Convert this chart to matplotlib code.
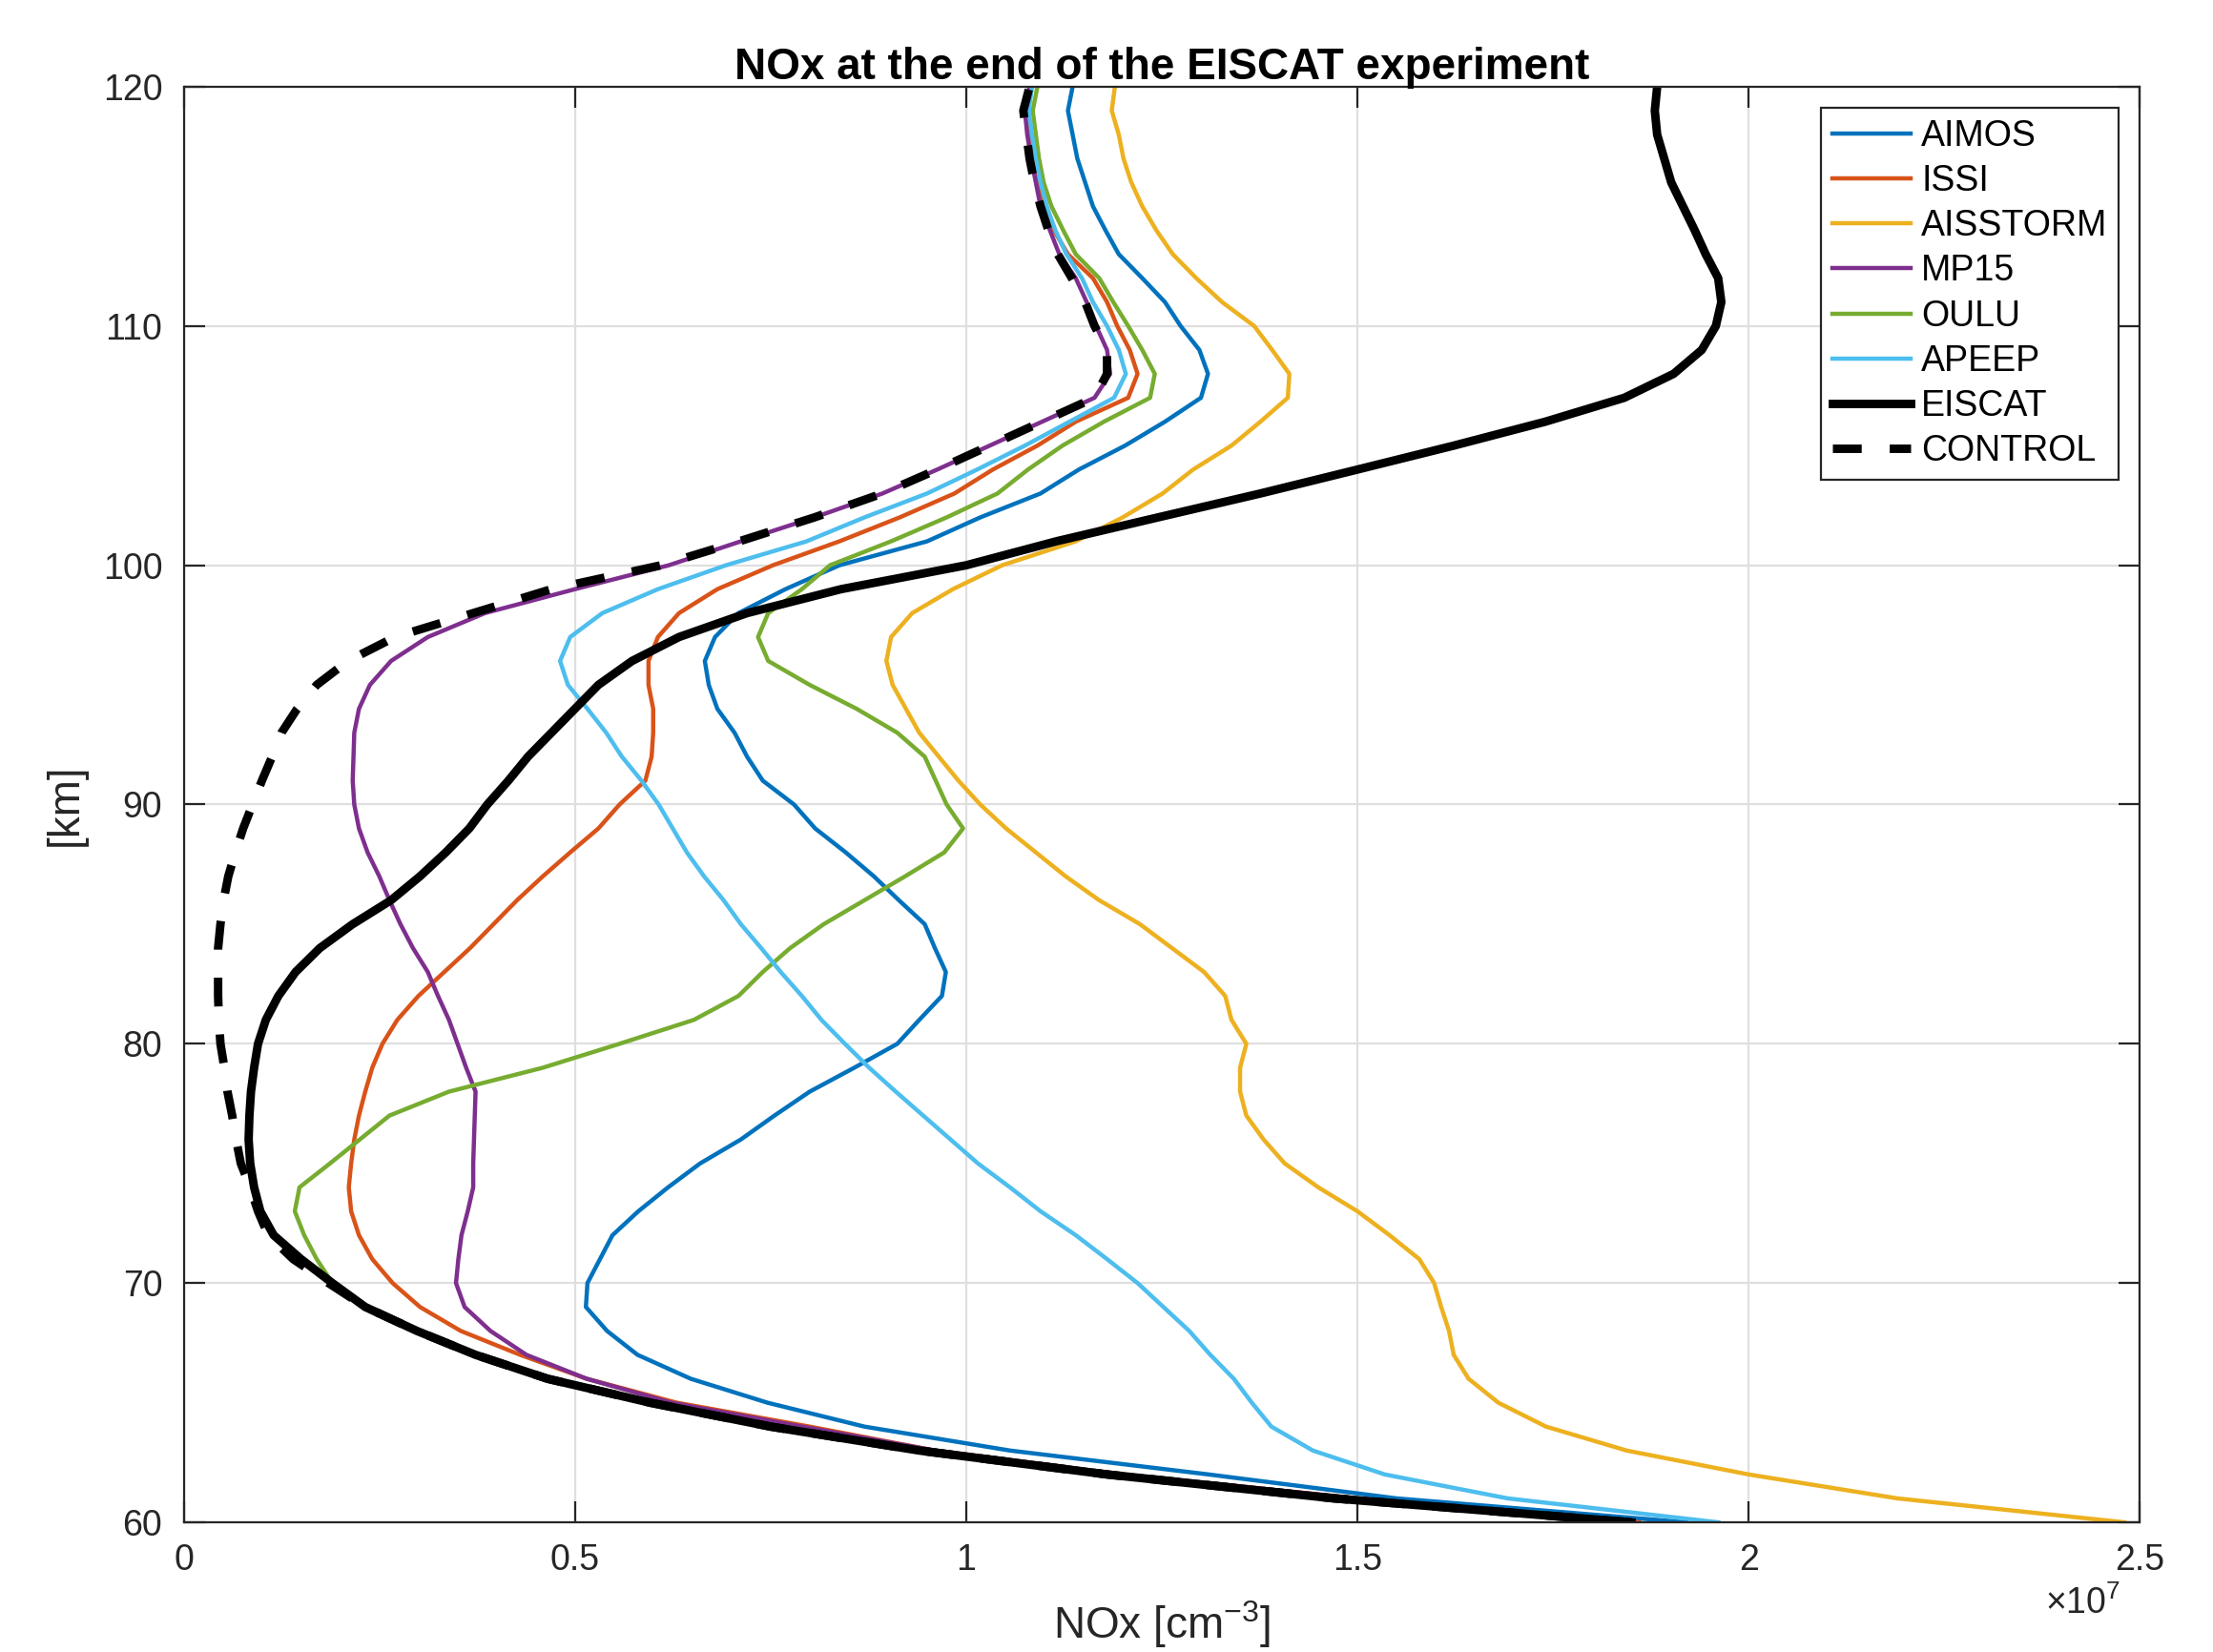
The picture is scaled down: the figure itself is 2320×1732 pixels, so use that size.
import matplotlib
matplotlib.use('Agg')
import matplotlib.pyplot as plt
from matplotlib.ticker import ScalarFormatter
import numpy as np

plt.rcParams['font.family'] = ['Liberation Sans', 'DejaVu Sans']
plt.rcParams['mathtext.fontset'] = 'custom'
plt.rcParams['mathtext.rm'] = 'Liberation Sans'
plt.rcParams['mathtext.it'] = 'Liberation Sans:italic'
plt.rcParams['mathtext.bf'] = 'Liberation Sans:bold'

# altitude grid [km]
altitude = np.arange(60, 121)

# NOx profiles in units of 1e7 cm^-3, from 60 km up to 120 km
aimos = [1.92, 1.55, 1.31, 1.056, 0.87, 0.746, 0.648, 0.58, 0.541, 0.514,
         0.516, 0.532, 0.548, 0.581, 0.619, 0.66, 0.712, 0.755, 0.80, 0.857,
         0.912, 0.94, 0.969, 0.974, 0.96, 0.947, 0.914, 0.882, 0.846, 0.807,
         0.78, 0.74, 0.72, 0.704, 0.682, 0.671, 0.666, 0.679, 0.709, 0.769,
         0.838, 0.95, 1.018, 1.095, 1.144, 1.203, 1.254, 1.3, 1.309, 1.298,
         1.274, 1.254, 1.225, 1.195, 1.178, 1.162, 1.152, 1.142, 1.136, 1.13,
         1.136]
issi = [1.86, 1.5, 1.2, 0.96, 0.80, 0.63, 0.515, 0.43, 0.354, 0.302,
        0.267, 0.241, 0.224, 0.214, 0.211, 0.214, 0.218, 0.224, 0.232, 0.241,
        0.254, 0.273, 0.3, 0.333, 0.366, 0.396, 0.426, 0.459, 0.494, 0.53,
        0.557, 0.59, 0.598, 0.6, 0.6, 0.594, 0.594, 0.606, 0.633, 0.682,
        0.753, 0.838, 0.915, 0.985, 1.034, 1.091, 1.14, 1.207, 1.219, 1.209,
        1.193, 1.18, 1.162, 1.13, 1.112, 1.1, 1.093, 1.086, 1.082, 1.078,
        1.084]
aisstorm = [2.48, 2.19, 2.0, 1.844, 1.741, 1.68, 1.642, 1.623, 1.617, 1.607,
            1.598, 1.579, 1.541, 1.5, 1.45, 1.407, 1.38, 1.358, 1.35, 1.35,
            1.358, 1.339, 1.331, 1.304, 1.263, 1.222, 1.17, 1.127, 1.089, 1.051,
            1.018, 0.99, 0.965, 0.94, 0.923, 0.906, 0.898, 0.904, 0.931, 0.983,
            1.046, 1.14, 1.2, 1.251, 1.29, 1.339, 1.376, 1.411, 1.413, 1.391,
            1.368, 1.327, 1.294, 1.264, 1.243, 1.225, 1.211, 1.201, 1.195, 1.186,
            1.19]
mp15 = [1.85, 1.5, 1.2, 0.96, 0.79, 0.623, 0.515, 0.438, 0.392, 0.359,
        0.348, 0.351, 0.355, 0.363, 0.37, 0.37, 0.371, 0.372, 0.373, 0.361,
        0.35, 0.339, 0.325, 0.312, 0.293, 0.277, 0.263, 0.25, 0.235, 0.224,
        0.218, 0.216, 0.217, 0.218, 0.224, 0.238, 0.265, 0.312, 0.385, 0.50,
        0.62, 0.712, 0.806, 0.893, 0.963, 1.03, 1.097, 1.164, 1.184, 1.18,
        1.166, 1.154, 1.14, 1.119, 1.107, 1.095, 1.089, 1.083, 1.078, 1.075,
        1.081]
oulu = [1.85, 1.47, 1.18, 0.94, 0.75, 0.596, 0.465, 0.373, 0.3, 0.236,
        0.19, 0.17, 0.154, 0.142, 0.148, 0.187, 0.225, 0.263, 0.339, 0.459,
        0.557, 0.652, 0.709, 0.74, 0.775, 0.818, 0.87, 0.922, 0.972, 0.996,
        0.975, 0.961, 0.947, 0.912, 0.86, 0.80, 0.747, 0.734, 0.747, 0.79,
        0.826, 0.904, 0.975, 1.04, 1.079, 1.123, 1.176, 1.235, 1.241, 1.225,
        1.207, 1.188, 1.17, 1.14, 1.124, 1.109, 1.099, 1.093, 1.089, 1.085,
        1.091]
apeep = [1.961, 1.692, 1.535, 1.443, 1.39, 1.365, 1.342, 1.312, 1.285, 1.252,
         1.219, 1.18, 1.14, 1.095, 1.056, 1.015, 0.98, 0.945, 0.91, 0.876,
         0.845, 0.815, 0.79, 0.763, 0.738, 0.712, 0.69, 0.665, 0.643, 0.625,
         0.607, 0.585, 0.56, 0.54, 0.516, 0.491, 0.481, 0.494, 0.535, 0.606,
         0.693, 0.796, 0.87, 0.95, 1.014, 1.075, 1.132, 1.189, 1.204, 1.195,
         1.18, 1.162, 1.148, 1.128, 1.114, 1.103, 1.095, 1.089, 1.084, 1.08,
         1.084]
eiscat = [1.85, 1.47, 1.18, 0.94, 0.75, 0.596, 0.465, 0.373, 0.298, 0.232,
          0.19, 0.15, 0.115, 0.098, 0.09, 0.085, 0.083, 0.084, 0.086, 0.09,
          0.095, 0.105, 0.121, 0.143, 0.174, 0.216, 0.265, 0.302, 0.335, 0.365,
          0.388, 0.415, 0.44, 0.47, 0.5, 0.53, 0.573, 0.633, 0.72, 0.84,
          1.0, 1.115, 1.245, 1.376, 1.50, 1.623, 1.74, 1.841, 1.904, 1.94,
          1.958, 1.965, 1.961, 1.945, 1.931, 1.916, 1.901, 1.892, 1.883, 1.880,
          1.883]
control = [1.85, 1.47, 1.18, 0.94, 0.75, 0.596, 0.465, 0.373, 0.298, 0.232,
           0.185, 0.14, 0.108, 0.095, 0.085, 0.073, 0.067, 0.062, 0.056, 0.052,
           0.047, 0.045, 0.044, 0.044, 0.044, 0.047, 0.051, 0.057, 0.066, 0.076,
           0.088, 0.10, 0.113, 0.125, 0.145, 0.17, 0.21, 0.27, 0.37, 0.47,
           0.61, 0.71, 0.806, 0.893, 0.963, 1.03, 1.097, 1.164, 1.18, 1.18,
           1.164, 1.152, 1.135, 1.117, 1.105, 1.095, 1.087, 1.081, 1.077, 1.073,
           1.081]

models = ['AIMOS', 'ISSI', 'AISSTORM', 'MP15', 'OULU', 'APEEP']
model_data = [aimos, issi, aisstorm, mp15, oulu, apeep]
colors = ['#0072BD', '#D95319', '#EDB120', '#7E2F8E', '#77AC30', '#4DBEEE']

scale = 1e7


class PlainSci(ScalarFormatter):
    def _set_format(self):
        self.format = '%g'


fig = plt.figure(figsize=(11.6, 8.66), dpi=200)
ax = fig.add_axes([0.083, 0.0785, 0.884, 0.869])

for name, vals, col in zip(models, model_data, colors):
    ax.plot(np.array(vals) * scale, altitude, color=col, lw=1.6, label=name)
ax.plot(np.array(eiscat) * scale, altitude, color='black', lw=3.2, label='EISCAT')
ax.plot(np.array(control) * scale, altitude, color='black', lw=3.2,
        linestyle=(0, (3.4, 3.3)), label='CONTROL')

ax.set_xlim(0, 2.5e7)
ax.set_ylim(60, 120)
ax.set_xticks(np.arange(0, 2.51e7, 0.5e7))
ax.set_yticks(np.arange(60, 121, 10))
fmt = PlainSci(useMathText=True)
fmt.set_powerlimits((0, 0))
ax.xaxis.set_major_formatter(fmt)

ax.grid(True, color='#DFDFDF', lw=0.8)
ax.set_axisbelow(True)
ax.tick_params(direction='in', top=True, right=True, length=8, width=0.8,
               labelsize=13.5, colors='#262626', pad=8)
for sp in ax.spines.values():
    sp.set_color('#262626')
    sp.set_linewidth(0.8)
offset = ax.xaxis.get_offset_text()
offset.set_fontsize(13.5)
offset.set_color('#262626')
offset.set_x(0.99)

ax.set_xlabel('NOx [cm$^{-3}$]', fontsize=16.5, color='#262626', labelpad=8)
ax.set_ylabel('[km]', fontsize=16.5, color='#262626', labelpad=6)
ax.set_title('NOx at the end of the EISCAT experiment', fontsize=16.5,
             fontweight='bold', pad=3)

leg = ax.legend(loc='upper right', fontsize=13.5, frameon=True, fancybox=False,
                framealpha=1, edgecolor='#262626', handlelength=2.2,
                handletextpad=0.3, labelspacing=0.3, borderpad=0.3,
                borderaxespad=0.6)
leg.get_frame().set_linewidth(0.8)

fig.savefig('out.png', dpi=200)
